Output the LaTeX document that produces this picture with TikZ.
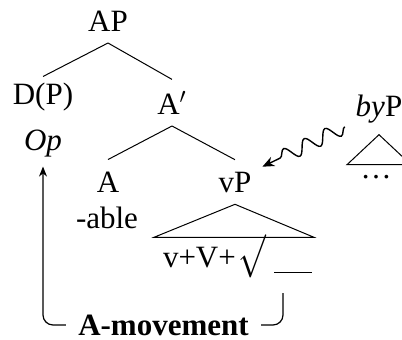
\documentclass[tikz,border=0pt]{standalone}
\usepackage{fontspec}
\setmainfont{Liberation Serif}
\usepackage{graphicx}
\usepackage{tikz}
\usetikzlibrary{arrows.meta, decorations.pathmorphing, calc}
\tikzset{
  tnode/.style={font=\fontsize{15.5}{18}\selectfont, anchor=base, inner xsep=0pt, inner ysep=6pt, outer sep=0pt},
  plain/.style={font=\fontsize{15.5}{18}\selectfont, anchor=base, inner sep=0pt, outer sep=0pt},
  branch/.style={line width=0.5pt},
  tri/.style={line width=0.5pt, line join=miter},
  mvlab/.style={font=\fontsize{15.5}{18}\selectfont\bfseries, inner xsep=6pt, inner ysep=2pt},
  mvline/.style={line width=0.6pt, rounded corners=5pt},
  mvarr/.style={mvline, -{Stealth[length=5pt, width=4pt]}, shorten >=5pt},
  squig/.style={line width=0.7pt, -{Stealth[length=6pt, width=5pt]}, decorate,
    decoration={snake, amplitude=3.5pt, segment length=11.5pt, post length=7pt}},
}

\begin{document}
\begin{tikzpicture}[x=0.5pt, y=-0.5pt]
  \useasboundingbox (0,0) rectangle (402,339);
  % tree
  \node[tnode] (ap) at (108,31) {AP};
  \node[tnode] (dp) at (43,104) {D(P)};
  \node[plain] (op) at (43,150) {\textit{Op}};
  \node[tnode] (abar) at (172,114) {A$'$};
  \node[tnode] (a) at (108,192) {A};
  \node[plain] (able) at (107,228) {-able};
  \node[tnode] (vp) at (235,192) {vP};
  \node[plain, anchor=base west] (roots) at (163,267)
    {v+V+\hspace{.1em}\scalebox{1.15}[1.5]{$\surd$}\hspace{.25em}\rule[-.2em]{1.2em}{.5pt}};
  \node[tnode] (byp) at (379,116) {\textit{by}P};
  \node[plain] (dots) at (376,178) {\dots};
  \draw[branch] (ap.south) -- ([yshift=-3pt]dp.north);
  \draw[branch] (ap.south) -- (abar.north);
  \draw[branch] (abar.south) -- (a.north);
  \draw[branch] (abar.south) -- (vp.north);
  \draw[tri] (vp.south) -- ++(-81,33) -- ++(160,0) -- cycle;
  \draw[tri] (byp.south) -- ++(-32,30) -- ++(64,0) -- cycle;
  % adjunct
  \draw[squig] ([shift={(-11,-8)}]byp.south west) -- ([shift={(11,7)}]vp.north east);
  % movement
  \coordinate (trace) at (283,293);
  \node[mvlab] (mvmt) at (163.5,325) {A-movement};
  \draw[mvline] (trace) |- (mvmt.east);
  \draw[mvarr] (mvmt.west) -| (op.south);
\end{tikzpicture}
\end{document}
